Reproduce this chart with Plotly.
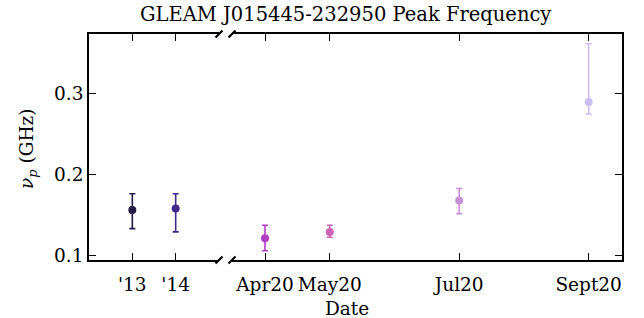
import plotly.graph_objects as go

# ---- data ----
early_labels = ["'13", "'14"]
early_x = [2013, 2014]
early_y = [0.1566, 0.1583]
early_hi = [0.1765, 0.1765]
early_lo = [0.1335, 0.1294]
early_colors = ["#231a45", "#3f2a8a"]

late_labels = ["Apr20", "May20", "Jul20", "Sept20"]
late_x = [4, 5, 7, 9]
late_y = [0.1216, 0.1294, 0.1682, 0.2900]
late_hi = [0.1377, 0.1377, 0.1830, 0.3620]
late_lo = [0.1062, 0.1228, 0.1520, 0.2752]
late_colors = ["#b13cc6", "#d062b8", "#c890d4", "#cbbdf0"]

y_ticks = [0.1, 0.2, 0.3]
y_range = [0.0947, 0.374]

FONT = "DejaVu Serif"
FS = 18.5

fig = go.Figure()

for lab, x, y, hi, lo, c in zip(early_labels, early_x, early_y, early_hi, early_lo, early_colors):
    fig.add_trace(go.Scatter(
        x=[x], y=[y], mode="markers", name=lab, xaxis="x", yaxis="y",
        marker=dict(color=c, size=8),
        error_y=dict(type="data", symmetric=False, array=[hi - y], arrayminus=[y - lo],
                     color=c, thickness=1.6, width=3),
    ))
for lab, x, y, hi, lo, c in zip(late_labels, late_x, late_y, late_hi, late_lo, late_colors):
    fig.add_trace(go.Scatter(
        x=[x], y=[y], mode="markers", name=lab, xaxis="x2", yaxis="y2",
        marker=dict(color=c, size=8),
        error_y=dict(type="data", symmetric=False, array=[hi - y], arrayminus=[y - lo],
                     color=c, thickness=1.6, width=3),
    ))

L, R, T, B = 89, 22, 34, 58
W = 644 - L - R
H = 318 - T - B
left_end = (219 - L) / W
right_start = (232 - L) / W

axis_common = dict(showgrid=False, zeroline=False, showline=True, linecolor="black",
                   linewidth=1.7, ticks="inside", ticklen=7, tickwidth=1.3, tickcolor="black",
                   tickfont=dict(family=FONT, size=FS, color="black"))

fig.update_layout(
    width=644, height=318,
    margin=dict(l=L, r=R, t=T, b=B),
    paper_bgcolor="white", plot_bgcolor="white",
    showlegend=False,
    xaxis=dict(domain=[0, left_end], range=[2012, 2015], tickvals=early_x, ticktext=early_labels,
               mirror="ticks", anchor="y", ticklabelstandoff=7, **axis_common),
    yaxis=dict(domain=[0, 1], range=y_range, tickvals=y_ticks,
               ticktext=[f"{v:.1f}" for v in y_ticks], anchor="x", **axis_common),
    xaxis2=dict(domain=[right_start, 1], range=[3.49, 9.515], tickvals=late_x, ticktext=late_labels,
                mirror="ticks", anchor="y2", ticklabelstandoff=7, **axis_common),
    yaxis2=dict(domain=[0, 1], range=y_range, tickvals=y_ticks, showticklabels=False,
                side="right", anchor="x2", **axis_common),
    annotations=[
        dict(text="GLEAM J015445-232950 Peak Frequency", x=(345 - L) / W, y=1 + (T - 14) / H,
             xref="paper", yref="paper", xanchor="center", yanchor="middle", showarrow=False,
             font=dict(family=FONT, size=19.5, color="black")),
        dict(text="Date", x=(347 - L) / W, y=-(308 - (T + H)) / H, xref="paper", yref="paper",
             xanchor="center", yanchor="middle", showarrow=False,
             font=dict(family=FONT, size=FS, color="black")),
        dict(text="<i>ν</i><sub><i>p</i></sub> (GHz)", x=(28 - L) / W, y=0.5 + (147 - 149) / H,
             xref="paper", yref="paper", xanchor="center", yanchor="middle", showarrow=False,
             textangle=-90, font=dict(family=FONT, size=FS, color="black")),
    ],
)

# break marks (decoration)
shapes = []
for px in (219, 232):
    xc = (px - L) / W
    for yc in (0, 1):
        shapes.append(dict(type="line", xref="paper", yref="paper",
                           x0=xc - 3.5 / W, x1=xc + 3.5 / W,
                           y0=yc - 3.5 / H, y1=yc + 3.5 / H,
                           line=dict(color="black", width=2.2)))
fig.update_layout(shapes=shapes)

fig.write_html("out.html", config={"displayModeBar": False},
               post_script="document.body.style.margin='0';")
